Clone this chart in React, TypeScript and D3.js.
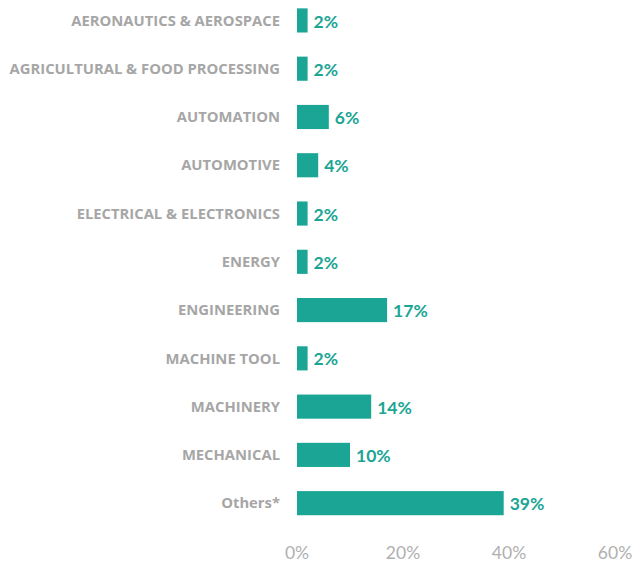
import { useEffect, useRef } from 'react';
import * as d3 from 'd3';

const categories = [
  'AERONAUTICS & AEROSPACE',
  'AGRICULTURAL & FOOD PROCESSING',
  'AUTOMATION',
  'AUTOMOTIVE',
  'ELECTRICAL & ELECTRONICS',
  'ENERGY',
  'ENGINEERING',
  'MACHINE TOOL',
  'MACHINERY',
  'MECHANICAL',
  'Others*',
];
const shares = [2, 2, 6, 4, 2, 2, 17, 2, 14, 10, 39];
const xTicks = [0, 20, 40, 60];

const App = () => {
  const ref = useRef<SVGSVGElement>(null);

  useEffect(() => {
    if (!ref.current) return;
    const svg = d3.select(ref.current);
    svg.selectAll('*').remove();

    const x = d3.scaleLinear().domain([0, 60]).range([297, 615]);
    const y = d3.scaleBand<string>()
      .domain(categories)
      .range([-3.7, 527.3])
      .paddingInner(0.5)
      .paddingOuter(0.25);

    const font = 'Lato, "Open Sans", sans-serif';
    const rows = categories.map((c, i) => ({ c, v: shares[i] }));

    svg.append('g')
      .selectAll('rect')
      .data(rows)
      .join('rect')
      .attr('x', x(0))
      .attr('y', d => y(d.c)!)
      .attr('width', d => x(d.v) - x(0))
      .attr('height', y.bandwidth())
      .attr('fill', '#1aa594');

    svg.append('g')
      .selectAll('text')
      .data(rows)
      .join('text')
      .attr('x', 280)
      .attr('y', d => y(d.c)! + y.bandwidth() / 2)
      .attr('dy', '0.35em')
      .attr('text-anchor', 'end')
      .style('font-family', '"Open Sans", sans-serif')
      .style('font-size', '14.8px')
      .style('font-weight', 'bold')
      .style('fill', '#a6a6a6')
      .text(d => d.c);

    svg.append('g')
      .selectAll('text')
      .data(rows)
      .join('text')
      .attr('x', d => x(d.v) + 6)
      .attr('y', d => y(d.c)! + y.bandwidth() / 2 + 1)
      .attr('dy', '0.35em')
      .style('font-family', font)
      .style('font-size', '17.5px')
      .style('font-weight', 'bold')
      .style('fill', '#1aa594')
      .text(d => `${d.v}%`);

    svg.append('g')
      .selectAll('text')
      .data(xTicks)
      .join('text')
      .attr('x', d => x(d))
      .attr('y', 553)
      .attr('dy', '0.35em')
      .attr('text-anchor', 'middle')
      .style('font-family', font)
      .style('font-size', '17.5px')
      .style('fill', '#b0b0b0')
      .text(d => `${d}%`);
  }, []);

  return (
    <svg
      ref={ref}
      width={634}
      height={562}
      style={{ position: 'absolute', left: 0, top: 0, background: '#fff' }}
    />
  );
};

export default App;
